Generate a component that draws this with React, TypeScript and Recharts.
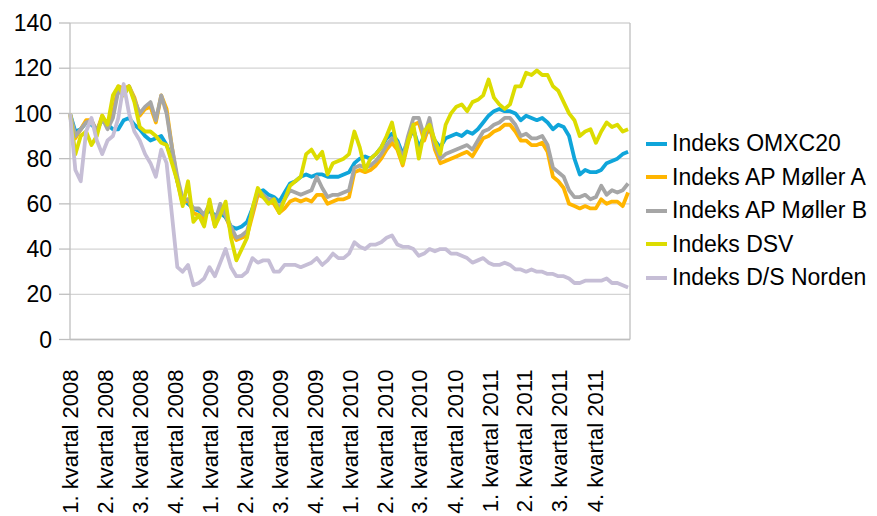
import React from 'react';
import { LineChart, Line, XAxis, YAxis, CartesianGrid, ReferenceLine } from 'recharts';

// biweekly samples, day 0 = 1 Jan 2008
const STEP_DAYS = 14;
const END_DAY = 1461;

const quarterStarts = [0, 91, 182, 274, 366, 456, 547, 639, 731, 821, 912, 1004, 1096, 1186, 1277, 1369];
const quarterLabels = [
  '1. kvartal 2008', '2. kvartal 2008', '3. kvartal 2008', '4. kvartal 2008',
  '1. kvartal 2009', '2. kvartal 2009', '3. kvartal 2009', '4. kvartal 2009',
  '1. kvartal 2010', '2. kvartal 2010', '3. kvartal 2010', '4. kvartal 2010',
  '1. kvartal 2011', '2. kvartal 2011', '3. kvartal 2011', '4. kvartal 2011',
];
const yTicks = [0, 20, 40, 60, 80, 100, 120, 140];

const omxc20 = [
  100, 92, 93, 96, 95, 93, 97, 95, 93, 93, 97, 98, 95, 93, 90, 88, 89, 90, 86, 80,
  70, 62, 60, 58, 57, 55, 57, 55, 56, 54, 50, 49, 50, 52, 58, 65, 66, 64, 63, 61,
  65, 69, 70, 72, 73, 72, 73,
  73, 72, 72, 72, 73, 74, 78, 80, 81, 80, 82, 85, 89, 91, 88, 82, 88, 93, 85, 90,
  93, 88, 85, 89, 90, 91, 90, 92, 91, 93, 96, 99, 101, 102, 101, 101, 100, 97, 99, 98,
  97, 98, 96, 93, 95, 94, 90, 80, 73, 75, 74, 74, 75, 78, 79, 80, 82, 83,
];
const apMollerA = [
  100, 89, 93, 97, 97, 92, 99, 94, 100, 112, 111, 112, 107, 99, 102, 103, 96, 108, 102, 85,
  70, 60, 62, 56, 55, 53, 60, 50, 58, 55, 48, 44, 45, 46, 55, 64, 63, 61, 60, 56,
  58, 61, 62, 61, 62, 61, 64,
  64, 60, 61, 62, 62, 63, 74, 75, 74, 75, 77, 80, 84, 87, 84, 77, 87, 95, 96, 88,
  95, 84, 78, 79, 80, 81, 82, 83, 81, 85, 89, 90, 92, 93, 95, 95, 92, 88, 88, 86,
  86, 87, 83, 72, 70, 67, 60, 59, 58, 59, 58, 58, 62, 60, 61, 61, 59, 65,
];
const apMollerB = [
  100, 90, 93, 96, 97, 92, 98, 93, 98, 110, 108, 112, 106, 100, 103, 105, 97, 108, 100, 85,
  72, 62, 62, 58, 58, 55, 60, 52, 60, 55, 50, 45, 46, 48, 57, 66, 64, 62, 62, 58,
  62, 66, 65, 64, 65, 66, 72,
  67, 63, 64, 64, 65, 66, 76, 77, 76, 77, 79, 82, 86, 89, 87, 80, 90, 98, 98, 90,
  98, 86, 80, 82, 83, 84, 85, 86, 84, 88, 92, 93, 95, 96, 98, 98, 95, 90, 91, 89,
  89, 90, 86, 76, 74, 72, 66, 63, 63, 64, 62, 63, 68, 64, 66, 65, 66, 69,
];
const dsv = [
  100, 82, 90, 92, 86, 90, 99, 95, 108, 112, 108, 112, 105, 94, 92, 92, 90, 87, 86, 78,
  70, 59, 70, 52, 55, 50, 62, 50, 55, 61, 45, 35, 40, 45, 58, 67, 63, 60, 62, 56,
  62, 68, 70, 72, 82, 84, 80,
  83, 73, 78, 79, 80, 82, 92, 85, 75, 80, 82, 85, 90, 96, 85, 78, 88, 95, 80, 92,
  95, 88, 82, 95, 100, 103, 104, 101, 105, 106, 108, 115, 107, 104, 102, 104, 112, 112, 118, 117,
  119, 117, 117, 112, 110, 105, 100, 97, 90, 92, 93, 87, 92, 96, 94, 95, 92, 93,
];
const dsNorden = [
  100, 75, 70, 92, 98, 88, 82, 88, 90, 98, 113, 100, 92, 88, 82, 78, 72, 84, 78, 55,
  32, 30, 33, 24, 25, 27, 32, 28, 34, 40, 32, 28, 28, 30, 36, 34, 35, 35, 30, 30,
  33, 33, 33, 32, 33, 34, 36,
  33, 35, 38, 36, 36, 38, 43, 41, 40, 42, 42, 43, 45, 46, 42, 41, 41, 40, 37, 38,
  40, 39, 40, 40, 38, 38, 37, 36, 34, 35, 36, 34, 33, 33, 34, 33, 31, 31, 30, 31,
  30, 30, 29, 29, 28, 28, 27, 25, 25, 26, 26, 26, 26, 27, 25, 25, 24, 23,
];

const series = [
  { key: 'omxc20', name: 'Indeks OMXC20', color: '#0FA5DA', values: omxc20 },
  { key: 'apA', name: 'Indeks AP Møller A', color: '#FFB500', values: apMollerA },
  { key: 'apB', name: 'Indeks AP Møller B', color: '#A6A6A6', values: apMollerB },
  { key: 'dsv', name: 'Indeks DSV', color: '#DCDC00', values: dsv },
  { key: 'norden', name: 'Indeks D/S Norden', color: '#C6BED6', values: dsNorden },
];

const data = omxc20.map((_, i) => {
  const row: Record<string, number> = { day: i * STEP_DAYS };
  series.forEach((s) => { row[s.key] = s.values[i]; });
  return row;
});

const FONT = '"Liberation Sans", Arial, sans-serif';

const QuarterTick = (props: any) => {
  const { x, y, payload } = props;
  const idx = quarterStarts.indexOf(payload.value);
  return (
    <text
      x={x}
      y={y + 22}
      transform={`rotate(-90 ${x} ${y + 22})`}
      textAnchor="end"
      dy="0.36em"
      fontSize={22}
      fontFamily={FONT}
      fill="#000"
    >
      {quarterLabels[idx] ?? ''}
    </text>
  );
};

export default function App() {
  return (
    <div style={{ position: 'absolute', left: 0, top: 0, width: 877, height: 516, background: '#fff', overflow: 'hidden' }}>
      <LineChart width={877} height={516} data={data} margin={{ top: 23, right: 247, bottom: 0, left: 0 }}>
        <CartesianGrid vertical={false} stroke="#D4D4D4" strokeWidth={1.3} />
        <XAxis
          dataKey="day"
          type="number"
          domain={[0, END_DAY]}
          ticks={quarterStarts}
          interval={0}
          tick={<QuarterTick />}
          tickLine={false}
          axisLine={{ stroke: '#BFBFBF', strokeWidth: 1.3 }}
          height={176.5}
        />
        <YAxis
          domain={[0, 140]}
          ticks={yTicks}
          interval={0}
          width={70}
          tickSize={11}
          tickMargin={7}
          tickLine={{ stroke: '#BFBFBF', strokeWidth: 1.3 }}
          axisLine={{ stroke: '#BFBFBF', strokeWidth: 1.3 }}
          tick={{ fill: '#000', fontSize: 23, fontFamily: FONT }}
        />
        <ReferenceLine x={END_DAY} stroke="#BFBFBF" strokeWidth={1.3} />
        {series.map((s) => (
          <Line
            key={s.key}
            type="linear"
            dataKey={s.key}
            name={s.name}
            stroke={s.color}
            strokeWidth={3.8}
            dot={false}
            activeDot={false}
            strokeLinejoin="round"
            isAnimationActive={false}
          />
        ))}
      </LineChart>
      <div style={{ position: 'absolute', left: 646, top: 127, fontFamily: FONT, fontSize: 23, color: '#000' }}>
        {series.map((s) => (
          <div key={s.key} style={{ display: 'flex', alignItems: 'center', height: 33.5 }}>
            <span style={{ display: 'inline-block', width: 21, height: 4, background: s.color, marginRight: 5 }} />
            <span style={{ whiteSpace: 'nowrap' }}>{s.name}</span>
          </div>
        ))}
      </div>
    </div>
  );
}
